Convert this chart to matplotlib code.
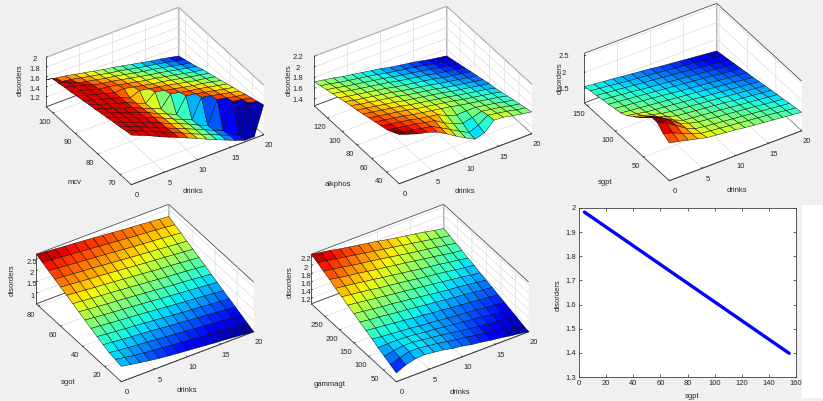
import numpy as np
import matplotlib
matplotlib.use('Agg')
import matplotlib.pyplot as plt
from matplotlib.colors import Normalize
from matplotlib.ticker import FuncFormatter
from matplotlib.patches import Rectangle

plt.rcParams['font.family'] = ['Liberation Sans', 'DejaVu Sans']

W, H = 823, 401

# ---------------- data ----------------
drinks = [0, 1.43, 2.86, 4.29, 5.71, 7.14, 8.57, 10, 11.43, 12.86, 14.29, 15.71, 17.14, 18.57, 20]
mcv = [65, 67.7, 70.4, 73.1, 75.9, 78.6, 81.3, 84, 86.7, 89.4, 92.1, 94.9, 97.6, 100.3, 103]
alkphos = [23, 31.2, 39.4, 47.6, 55.9, 64.1, 72.3, 80.5, 88.7, 96.9, 105.1, 113.4, 121.6, 129.8, 138]
sgpt = [4, 14.8, 25.6, 36.4, 47.1, 57.9, 68.7, 79.5, 90.3, 101.1, 111.9, 122.6, 133.4, 144.2, 155]
sgot = [5, 10.5, 16, 21.5, 27, 32.5, 38, 43.5, 49, 54.5, 60, 65.5, 71, 76.5, 82]
gammagt = [5, 25.9, 46.7, 67.6, 88.4, 109.3, 130.1, 151, 171.9, 192.7, 213.6, 234.4, 255.3, 276.1, 297]

# disorders surfaces: rows = second input (low -> high), columns = drinks (0 -> 20)
z_mcv = [
    [2.00,1.92,1.84,1.75,1.67,1.59,1.51,1.43,1.34,1.26,1.18,1.10,1.03,1.03,1.60],
    [1.98,1.90,1.82,1.74,1.66,1.58,1.50,1.41,1.33,1.25,1.17,1.09,1.03,1.60,1.56],
    [1.95,1.87,1.80,1.72,1.65,1.56,1.48,1.40,1.32,1.24,1.15,1.07,1.59,1.56,1.52],
    [1.93,1.85,1.78,1.71,1.63,1.55,1.47,1.39,1.31,1.22,1.14,1.59,1.55,1.51,1.48],
    [1.90,1.83,1.76,1.69,1.62,1.54,1.46,1.37,1.29,1.21,1.59,1.55,1.51,1.47,1.43],
    [1.88,1.81,1.74,1.67,1.61,1.53,1.44,1.36,1.28,1.58,1.55,1.51,1.47,1.43,1.39],
    [1.85,1.79,1.72,1.66,1.59,1.51,1.43,1.35,1.58,1.54,1.50,1.47,1.43,1.39,1.35],
    [1.83,1.76,1.70,1.64,1.58,1.50,1.42,1.58,1.54,1.50,1.46,1.42,1.39,1.35,1.31],
    [1.80,1.74,1.68,1.63,1.57,1.49,1.57,1.53,1.50,1.46,1.42,1.38,1.34,1.31,1.27],
    [1.78,1.72,1.67,1.61,1.56,1.57,1.53,1.49,1.45,1.42,1.38,1.34,1.30,1.27,1.23],
    [1.75,1.70,1.65,1.59,1.57,1.53,1.49,1.45,1.41,1.38,1.34,1.30,1.26,1.22,1.19],
    [1.73,1.68,1.63,1.56,1.52,1.49,1.45,1.41,1.37,1.33,1.30,1.26,1.22,1.18,1.14],
    [1.70,1.65,1.56,1.52,1.48,1.44,1.41,1.37,1.33,1.29,1.26,1.22,1.18,1.14,1.10],
    [1.68,1.55,1.52,1.48,1.44,1.40,1.36,1.33,1.29,1.25,1.21,1.18,1.14,1.10,1.06],
    [1.55,1.51,1.48,1.44,1.40,1.36,1.32,1.29,1.25,1.21,1.17,1.13,1.10,1.06,1.02],
]
z_alkphos = [
    [2.19,2.13,2.07,2.03,1.97,1.87,1.76,1.66,1.57,1.62,1.79,1.78,1.74,1.71,1.68],
    [2.13,2.07,2.04,2.00,1.97,1.88,1.78,1.68,1.59,1.66,1.78,1.75,1.72,1.68,1.65],
    [2.07,2.04,2.01,1.98,1.94,1.91,1.80,1.72,1.66,1.70,1.75,1.72,1.69,1.65,1.62],
    [2.04,2.01,1.98,1.95,1.91,1.88,1.85,1.76,1.71,1.72,1.72,1.69,1.66,1.62,1.59],
    [2.01,1.98,1.95,1.92,1.88,1.85,1.82,1.79,1.76,1.72,1.69,1.66,1.63,1.60,1.56],
    [1.98,1.95,1.92,1.89,1.86,1.82,1.79,1.76,1.73,1.70,1.66,1.63,1.60,1.57,1.53],
    [1.95,1.92,1.89,1.86,1.83,1.79,1.76,1.73,1.70,1.67,1.63,1.60,1.57,1.54,1.50],
    [1.92,1.89,1.86,1.83,1.80,1.76,1.73,1.70,1.67,1.64,1.60,1.57,1.54,1.51,1.48],
    [1.90,1.86,1.83,1.80,1.77,1.74,1.70,1.67,1.64,1.61,1.57,1.54,1.51,1.48,1.45],
    [1.87,1.83,1.80,1.77,1.74,1.71,1.67,1.64,1.61,1.58,1.54,1.51,1.48,1.45,1.42],
    [1.84,1.80,1.77,1.74,1.71,1.68,1.64,1.61,1.58,1.55,1.52,1.48,1.45,1.42,1.39],
    [1.81,1.78,1.74,1.71,1.68,1.65,1.62,1.58,1.55,1.52,1.49,1.45,1.42,1.39,1.36],
    [1.78,1.75,1.71,1.68,1.65,1.62,1.59,1.55,1.52,1.49,1.46,1.43,1.39,1.36,1.33],
    [1.75,1.72,1.68,1.65,1.62,1.59,1.56,1.52,1.49,1.46,1.43,1.40,1.36,1.33,1.30],
    [1.72,1.69,1.66,1.62,1.59,1.56,1.53,1.50,1.46,1.43,1.40,1.37,1.33,1.30,1.27],
]
z_sgpt = [
    [2.22,2.16,2.09,2.02,1.95,1.92,1.89,1.86,1.82,1.79,1.76,1.73,1.70,1.67,1.64],
    [2.33,2.25,2.12,2.01,1.91,1.88,1.85,1.82,1.79,1.76,1.73,1.70,1.67,1.63,1.60],
    [2.50,2.37,2.19,2.01,1.88,1.84,1.81,1.78,1.75,1.72,1.69,1.66,1.63,1.60,1.57],
    [2.51,2.38,2.18,1.99,1.88,1.81,1.78,1.75,1.72,1.69,1.66,1.63,1.59,1.56,1.53],
    [2.33,2.22,2.07,1.92,1.80,1.77,1.74,1.71,1.68,1.65,1.62,1.59,1.56,1.53,1.50],
    [2.14,2.06,1.95,1.85,1.77,1.74,1.71,1.68,1.65,1.62,1.58,1.55,1.52,1.49,1.46],
    [2.01,1.93,1.85,1.78,1.73,1.70,1.67,1.64,1.61,1.58,1.55,1.52,1.49,1.46,1.43],
    [1.87,1.82,1.76,1.73,1.70,1.67,1.64,1.61,1.57,1.54,1.51,1.48,1.45,1.42,1.39],
    [1.78,1.75,1.72,1.69,1.66,1.63,1.60,1.57,1.54,1.51,1.48,1.45,1.42,1.38,1.35],
    [1.75,1.72,1.69,1.66,1.63,1.60,1.56,1.53,1.50,1.47,1.44,1.41,1.38,1.35,1.32],
    [1.71,1.68,1.65,1.62,1.59,1.56,1.53,1.50,1.47,1.44,1.41,1.38,1.34,1.31,1.28],
    [1.68,1.65,1.62,1.59,1.55,1.52,1.49,1.46,1.43,1.40,1.37,1.34,1.31,1.28,1.25],
    [1.64,1.61,1.58,1.55,1.52,1.49,1.46,1.43,1.40,1.37,1.33,1.30,1.27,1.24,1.21],
    [1.61,1.58,1.55,1.51,1.48,1.45,1.42,1.39,1.36,1.33,1.30,1.27,1.24,1.21,1.18],
    [1.57,1.54,1.51,1.48,1.45,1.42,1.39,1.36,1.32,1.29,1.26,1.23,1.20,1.17,1.14],
]
z_sgot = [
    [1.20,1.12,1.05,0.98,0.92,0.87,0.83,0.79,0.75,0.71,0.67,0.64,0.60,0.56,0.52],
    [1.26,1.19,1.12,1.07,1.03,0.99,0.95,0.91,0.87,0.83,0.79,0.76,0.72,0.68,0.64],
    [1.32,1.26,1.22,1.18,1.15,1.11,1.07,1.03,0.99,0.95,0.91,0.88,0.84,0.80,0.76],
    [1.42,1.38,1.34,1.30,1.27,1.23,1.19,1.15,1.11,1.07,1.03,1.00,0.96,0.92,0.88],
    [1.53,1.49,1.45,1.41,1.38,1.34,1.30,1.26,1.22,1.18,1.14,1.11,1.07,1.03,0.99],
    [1.65,1.61,1.57,1.53,1.50,1.46,1.42,1.38,1.34,1.30,1.26,1.23,1.19,1.15,1.11],
    [1.77,1.73,1.69,1.65,1.62,1.58,1.54,1.50,1.46,1.42,1.38,1.35,1.31,1.27,1.23],
    [1.89,1.85,1.81,1.77,1.74,1.70,1.66,1.62,1.58,1.54,1.50,1.47,1.43,1.39,1.35],
    [2.01,1.97,1.93,1.89,1.86,1.82,1.78,1.74,1.70,1.66,1.62,1.59,1.55,1.51,1.47],
    [2.13,2.09,2.05,2.01,1.98,1.94,1.90,1.86,1.82,1.78,1.74,1.71,1.67,1.63,1.59],
    [2.25,2.21,2.17,2.13,2.10,2.06,2.02,1.98,1.94,1.90,1.86,1.83,1.79,1.75,1.71],
    [2.36,2.32,2.28,2.24,2.21,2.17,2.13,2.09,2.05,2.01,1.97,1.94,1.90,1.86,1.82],
    [2.48,2.44,2.40,2.36,2.33,2.29,2.25,2.21,2.17,2.13,2.09,2.06,2.02,1.98,1.94],
    [2.60,2.56,2.52,2.48,2.45,2.41,2.37,2.33,2.29,2.25,2.21,2.18,2.14,2.10,2.06],
    [2.72,2.68,2.64,2.60,2.57,2.53,2.49,2.45,2.41,2.37,2.33,2.30,2.26,2.22,2.18],
]
z_gammagt = [
    [1.27,1.38,1.44,1.46,1.43,1.40,1.35,1.32,1.27,1.24,1.20,1.17,1.13,1.10,1.06],
    [1.34,1.42,1.48,1.48,1.45,1.42,1.38,1.34,1.31,1.27,1.23,1.21,1.17,1.13,1.10],
    [1.41,1.46,1.49,1.49,1.46,1.43,1.40,1.37,1.33,1.30,1.27,1.24,1.21,1.18,1.15],
    [1.48,1.49,1.49,1.48,1.46,1.43,1.41,1.38,1.35,1.33,1.30,1.28,1.24,1.21,1.19],
    [1.56,1.53,1.51,1.49,1.47,1.44,1.42,1.40,1.37,1.35,1.33,1.31,1.28,1.26,1.24],
    [1.63,1.60,1.58,1.55,1.53,1.50,1.48,1.45,1.43,1.40,1.38,1.36,1.33,1.31,1.28],
    [1.70,1.67,1.65,1.62,1.59,1.57,1.54,1.51,1.49,1.46,1.43,1.41,1.38,1.35,1.33],
    [1.77,1.74,1.71,1.68,1.66,1.63,1.60,1.57,1.54,1.51,1.48,1.46,1.43,1.40,1.37],
    [1.84,1.81,1.78,1.75,1.72,1.69,1.66,1.63,1.60,1.57,1.54,1.51,1.48,1.44,1.41],
    [1.91,1.88,1.85,1.82,1.78,1.75,1.72,1.69,1.65,1.62,1.59,1.56,1.52,1.49,1.46],
    [1.98,1.95,1.92,1.88,1.85,1.81,1.78,1.74,1.71,1.67,1.64,1.61,1.57,1.54,1.50],
    [2.06,2.02,1.98,1.95,1.91,1.87,1.84,1.80,1.77,1.73,1.69,1.66,1.62,1.58,1.55],
    [2.13,2.09,2.05,2.01,1.97,1.94,1.90,1.86,1.82,1.78,1.74,1.71,1.67,1.63,1.59],
    [2.20,2.16,2.12,2.08,2.04,2.00,1.96,1.92,1.88,1.84,1.80,1.76,1.72,1.68,1.64],
    [2.27,2.23,2.19,2.14,2.10,2.06,2.02,1.98,1.93,1.89,1.85,1.81,1.77,1.72,1.68],
]

# 1-D curve: disorders vs sgpt
line_sgpt = [4, 155]
line_disorders = [1.983, 1.398]

drink_ticks = [0, 5, 10, 15, 20]

# ---------------- figure ----------------
fig = plt.figure(figsize=(W / 100, H / 100), dpi=100, facecolor='#f0f0f0')
fig.add_artist(Rectangle((802 / W, 3 / H), 21 / W, 193 / H, transform=fig.transFigure,
                         facecolor='white', edgecolor='none', zorder=0))

fmt = FuncFormatter(lambda v, p: f'{v:g}')
TXT = '#262626'


def px_text(x, y, s, rot=0, size=5.5):
    fig.text(x / W, 1 - y / H, s, rotation=rot, ha='center', va='center',
             fontsize=size, color=TXT)


def panel3d(cx, cy, yvals, Z, ylim, zlim, yticks, zticks, cnorm, zpad, cap=1.0):
    S = 224.0
    ax = fig.add_axes([(cx - 0.5135 * S) / W, (H - cy - 0.5135 * S) / H, S / W, S / H],
                      projection='3d')
    ax.set_proj_type('ortho')
    ax.view_init(elev=36, azim=-122.7)
    ax.set_box_aspect((1, 1, 0.39))
    ax.set_facecolor((0, 0, 0, 0))
    X, Y = np.meshgrid(drinks, yvals)
    Zarr = np.array(Z)
    fc = plt.cm.jet(np.minimum(Normalize(*cnorm, clip=True)(Zarr), cap))
    ax.plot_surface(X, Y, Zarr, facecolors=fc, edgecolor='k', linewidth=0.3,
                    shade=False, rstride=1, cstride=1, antialiased=True)
    ax.set_xlim(0, 20)
    ax.set_ylim(*ylim)
    ax.set_zlim(*zlim)
    ax.set_xticks(drink_ticks)
    ax.set_yticks(yticks)
    ax.set_zticks(zticks)
    for a in (ax.xaxis, ax.yaxis, ax.zaxis):
        a.set_major_formatter(fmt)
        a.set_pane_color((1, 1, 1, 1))
        a.pane.set_edgecolor('#505050')
        a.pane.set_linewidth(0.6)
        a.line.set_color('#404040')
        a.line.set_linewidth(0.6)
        a._axinfo['tick']['inward_factor'] = 0.0
        a._axinfo['tick']['outward_factor'] = 0.12
        a._axinfo['tick']['linewidth'] = {True: 0.5, False: 0.5}
        a._axinfo['grid']['color'] = '#dddddd'
        a._axinfo['grid']['linewidth'] = 0.5
    ax.tick_params(labelsize=5.5, pad=-3, colors=TXT)
    ax.zaxis.set_tick_params(pad=zpad)
    return ax


panel3d(155, 96, mcv, z_mcv, (65, 103), (1.0, 2.0), [70, 80, 90, 100],
        [1.2, 1.4, 1.6, 1.8, 2.0], (1.0, 1.7), -3.6, cap=0.92)
px_text(20, 80, 'disorders', 90)
px_text(75, 183, 'mcv')
px_text(193, 192, 'drinks')

panel3d(423, 95, alkphos, z_alkphos, (23, 138), (1.27, 2.2), [40, 60, 80, 100, 120],
        [1.4, 1.6, 1.8, 2.0, 2.2], (1.27, 2.15), -1.5)
px_text(289, 80, 'disorders', 90)
px_text(338, 185, 'alkphos')
px_text(465, 192, 'drinks')

panel3d(693, 92, sgpt, z_sgpt, (4, 155), (1.08, 2.58), [50, 100, 150],
        [1.5, 2.0, 2.5], (1.1, 2.45), 0)
px_text(560, 78, 'disorders', 90)
px_text(605, 183, 'sgpt')
px_text(737, 190, 'drinks')

panel3d(145, 293, sgot, z_sgot, (5, 82), (0.52, 2.72), [20, 40, 60, 80],
        [1.0, 1.5, 2.0, 2.5], (0.52, 2.72), -6.4)
px_text(12, 280, 'disorders', 90)
px_text(68, 383, 'sgot')
px_text(187, 391, 'drinks')

panel3d(420, 293, gammagt, z_gammagt, (5, 297), (1.06, 2.27), [50, 100, 150, 200, 250],
        [1.2, 1.4, 1.6, 1.8, 2.0, 2.2], (1.06, 2.27), -5.9)
px_text(290, 282, 'disorders', 90)
px_text(330, 384, 'gammagt')
px_text(460, 392, 'drinks')

# 2-D panel
ax6 = fig.add_axes([579 / W, 24 / H, 217 / W, 169 / H])
ax6.plot(line_sgpt, line_disorders, color=(0, 0, 1), lw=2.4, solid_capstyle='round')
ax6.set_xlim(0, 160)
ax6.set_ylim(1.3, 2.0)
ax6.set_xticks([0, 20, 40, 60, 80, 100, 120, 140, 160])
ax6.set_yticks([1.3, 1.4, 1.5, 1.6, 1.7, 1.8, 1.9, 2.0])
ax6.yaxis.set_major_formatter(fmt)
ax6.tick_params(direction='in', top=True, right=True, length=2, width=0.5,
                labelsize=5.5, colors=TXT, pad=2)
for s in ax6.spines.values():
    s.set_linewidth(0.6)
    s.set_color('#404040')
px_text(558, 295, 'disorders', 90)
px_text(692, 397, 'sgpt')

fig.savefig('out.png', dpi=100, facecolor=fig.get_facecolor())
